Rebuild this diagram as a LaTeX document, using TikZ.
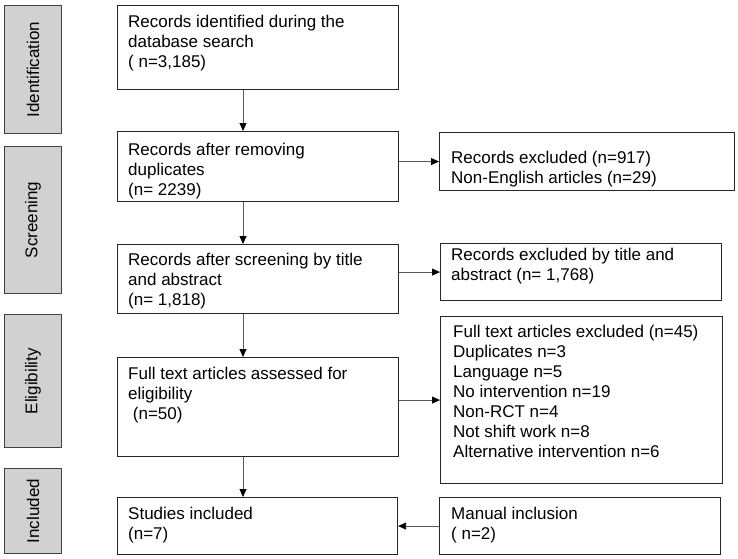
\documentclass[tikz,border=0pt]{standalone}
\usepackage{fontspec}
\setmainfont{Liberation Sans}
\usetikzlibrary{arrows.meta,calc}
\begin{document}
\begin{tikzpicture}[x=1pt,y=-1pt,
  box/.style={draw=black!85, line width=1.1pt, rectangle, anchor=north west, inner sep=0pt},
  phase/.style={box, fill=black!18, draw=black!75},
  txt/.style={anchor=north west, inner sep=0pt, align=left, font=\fontsize{17}{20}\selectfont},
  plab/.style={rotate=90, inner sep=0pt, font=\fontsize{17}{20}\selectfont},
  arr/.style={draw=black!65, line width=0.8pt, -{Triangle[length=8pt,width=7pt,color=black]}}]
\path[use as bounding box] (0,0) rectangle (738,558);
% phase boxes
\node[phase, minimum width=57pt, minimum height=128pt] (p1) at (4,5) {};
\node[phase, minimum width=57pt, minimum height=147pt] (p2) at (4,146) {};
\node[phase, minimum width=57pt, minimum height=133pt] (p3) at (4,314) {};
\node[phase, minimum width=57pt, minimum height=85pt] (p4) at (4,468) {};
\node[plab] (l1) at (p1.center) {Identification};
\node[plab] (l2) at (p2.center) {Screening};
\node[plab] (l3) at (p3.center) {Eligibility};
\node[plab] (l4) at (p4.center) {Included};
% main boxes
\node[box, minimum width=281pt, minimum height=84pt] (b1) at (117,5) {};
\node[box, minimum width=281pt, minimum height=70pt] (b2) at (117,131) {};
\node[box, minimum width=281pt, minimum height=69pt] (b3) at (117,244) {};
\node[box, minimum width=281pt, minimum height=99pt] (b4) at (117,357) {};
\node[box, minimum width=280pt, minimum height=57pt] (b5) at (117,497) {};
\node[box, minimum width=295pt, minimum height=58pt] (e1) at (439,132) {};
\node[box, minimum width=281pt, minimum height=57pt] (e2) at (440,243) {};
\node[box, minimum width=282pt, minimum height=167pt] (e3) at (440,316) {};
\node[box, minimum width=281pt, minimum height=57pt] (m) at (439,497) {};
% texts
\node[txt] (t1) at (128,13) {\strut Records identified during the\\database search\\( n=3,185)};
\node[txt] (t2) at (128,141) {\strut Records after removing\\duplicates\\(n= 2239)};
\node[txt] (t3) at (128,251) {\strut Records after screening by title\\and abstract\\(n= 1,818)};
\node[txt] (t4) at (128,365) {\strut Full text articles assessed for\\eligibility\\\hspace*{4.7pt}(n=50)};
\node[txt] (t5) at (128,505) {\strut Studies included\\(n=7)};
\node[txt] (te1) at (451,149) {\strut Records excluded (n=917)\\Non-English articles (n=29)};
\node[txt] (te2) at (451,246) {\strut Records excluded by title and\\abstract (n= 1,768)};
\node[txt] (te3) at (453,323) {\strut Full text articles excluded (n=45)\\Duplicates n=3\\Language n=5\\No intervention n=19\\Non-RCT n=4\\Not shift work n=8\\Alternative intervention n=6};
\node[txt] (tm) at (451,505) {\strut Manual inclusion\\( n=2)};
% connectors
\draw[arr] ($(b1.south west)+(126,0)$) -- ($(b2.north west)+(126,0)$);
\draw[arr] ($(b2.south west)+(126,0)$) -- ($(b3.north west)+(126,0)$);
\draw[arr] ($(b3.south west)+(126,0)$) -- ($(b4.north west)+(126,0)$);
\draw[arr] ($(b4.south west)+(126,0)$) -- ($(b5.north west)+(126,0)$);
\draw[arr] (b2.east |- e1.west) -- (e1.west);
\draw[arr] (b3.east |- e2.west) -- (e2.west);
\draw[arr] (b4.east |- e3.west) -- (e3.west);
\draw[arr] (m.west) -- (b5.east |- m.west);
\end{tikzpicture}
\end{document}
